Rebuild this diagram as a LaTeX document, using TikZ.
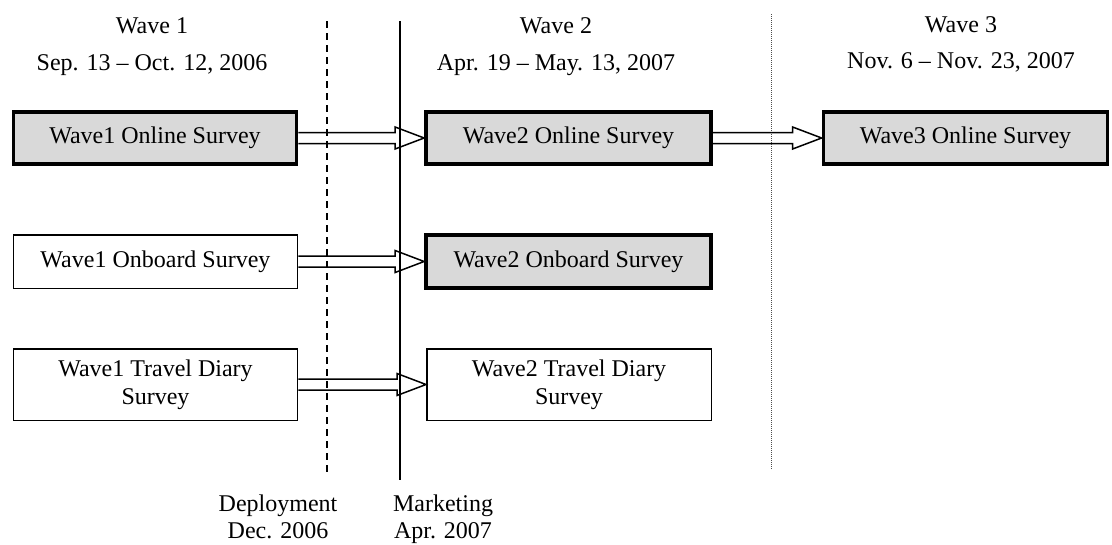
\documentclass[tikz,border=0pt]{standalone}
\usepackage{fontspec}
\setmainfont{Liberation Serif}
\usetikzlibrary{calc}
\newcommand{\blockarrow}[2]{%
  \coordinate (tip-#2) at (#2.west |- #1.east);
  \draw[blockarr] ($(#1.east)+(0,-5.5)$) -- ($(tip-#2)+(-29,-5.5)$) -- ($(tip-#2)+(-29,-11)$) -- (tip-#2) -- ($(tip-#2)+(-29,11)$) -- ($(tip-#2)+(-29,5.5)$) -- ($(#1.east)+(0,5.5)$);}
\begin{document}
\begin{tikzpicture}[x=1pt,y=-1pt,
  txt/.style={font=\fontsize{24}{28}\selectfont, inner sep=0pt},
  box/.style={txt, draw=black, line width=1.5pt, align=center, inner sep=0pt},
  hibox/.style={box, fill=black!15, line width=3.8pt},
  blockarr/.style={draw=black, line width=1.5pt, line join=miter},
  dashline/.style={line width=1.5pt, dash pattern=on 7pt off 5pt},
  solidline/.style={line width=1.5pt},
  dotline/.style={line width=0.8pt, black!70, dash pattern=on 1pt off 1pt}]
\useasboundingbox (0,0) rectangle (1112,544);

% headers
\node[txt, anchor=base] (w1t) at (152,33) {Wave 1};
\node[txt, anchor=base] (w1d) at (152,70) {Sep. 13 – Oct. 12, 2006};
\node[txt, anchor=base] (w2t) at (556,33) {Wave 2};
\node[txt, anchor=base] (w2d) at (556,70) {Apr. 19 – May. 13, 2007};
\node[txt, anchor=base] (w3t) at (961,32) {Wave 3};
\node[txt, anchor=base] (w3d) at (961,68) {Nov. 6 – Nov. 23, 2007};

% vertical lines
\coordinate (dtop) at (327,21); \coordinate (dbot) at (327,475);
\coordinate (stop) at (400,21); \coordinate (sbot) at (400,480);
\coordinate (ptop) at (771,14); \coordinate (pbot) at (771,470);
\draw[dashline] (dtop) -- (dbot);
\draw[solidline] (stop) -- (sbot);
\draw[dotline] (ptop) -- (pbot);

% boxes
\node[hibox, minimum width=283, minimum height=52.5] (w1on) at (155,138) {Wave1 Online Survey};
\node[hibox, minimum width=285, minimum height=52.5] (w2on) at (568.5,138) {Wave2 Online Survey};
\node[hibox, minimum width=284, minimum height=52.5] (w3on) at (965.5,138) {Wave3 Online Survey};
\node[box, minimum width=284, minimum height=53.5] (w1ob) at (155.5,261.5) {Wave1 Onboard Survey};
\node[hibox, minimum width=285, minimum height=52.5] (w2ob) at (568.5,261.5) {Wave2 Onboard Survey};
\node[box, minimum width=284, minimum height=71.5] (w1td) at (155.5,384.5) {Wave1 Travel Diary\\Survey};
\node[box, minimum width=284.5, minimum height=71.5] (w2td) at (569,384.5) {Wave2 Travel Diary\\Survey};

% arrows
\blockarrow{w1on}{w2on}
\blockarrow{w2on}{w3on}
\blockarrow{w1ob}{w2ob}
\blockarrow{w1td}{w2td}

% bottom labels
\node[txt, anchor=base] (depl) at (278,511) {Deployment};
\node[txt, anchor=base] (depd) at (278,538) {Dec. 2006};
\node[txt, anchor=base] (mark) at (443,511) {Marketing};
\node[txt, anchor=base] (markd) at (443,538) {Apr. 2007};
\end{tikzpicture}
\end{document}
